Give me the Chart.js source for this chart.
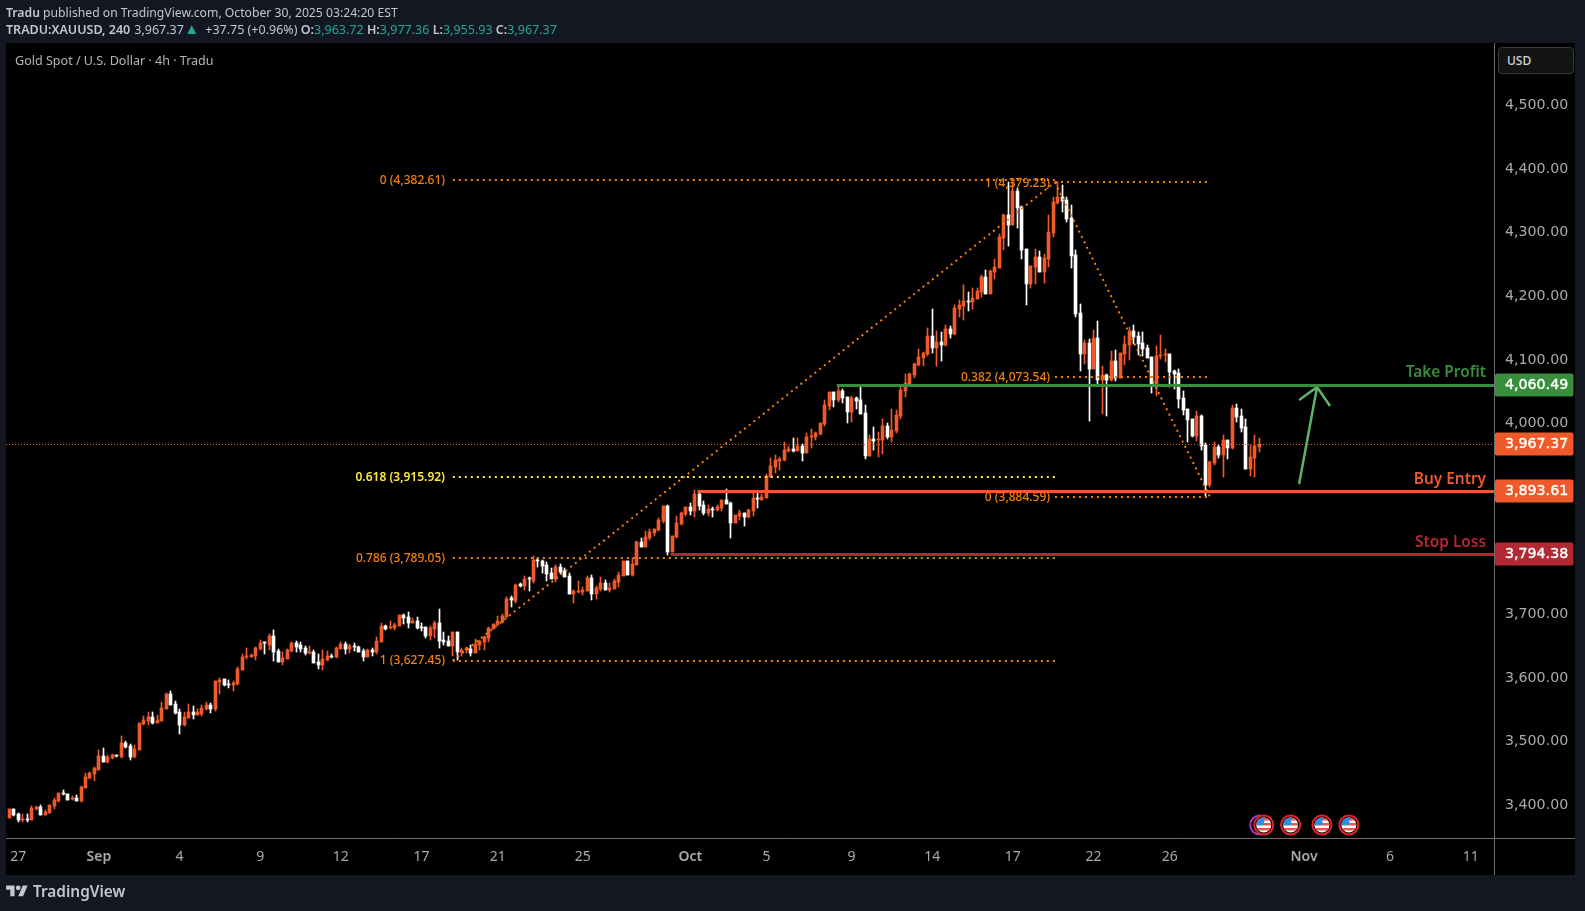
<!DOCTYPE html>
<html>
<head>
<meta charset="utf-8">
<title>XAUUSD 4h</title>
<script src="https://cdn.jsdelivr.net/npm/chart.js@4"></script>
<style>
  html, body { margin: 0; height: 100%; background: #131722; overflow: hidden; }
  canvas { position: absolute; left: 0; top: 0; }
  .txt { position: absolute; white-space: nowrap; font-family: "Noto Sans", sans-serif; color: #c3c6ce; }
  .head { left: 6px; font-size: 12.5px; line-height: 16px; }
  .head b { font-weight: 600; }
  .teal { color: #26a69a; }
  #line1 { font-size: 12.2px; }
  #tri { font-size: 15px; line-height: 12px; margin-left: -3px; margin-right: 3px; }
  #title { left: 15px; top: 52px; font-size: 12.55px; line-height: 17px; color: #b4b6bc; }
  #usd { left: 1498px; top: 47px; width: 76px; height: 27px; box-sizing: border-box; padding-left: 8px; background: #141414; border: 1px solid #3a3a3a; border-radius: 4px; font-size: 12px; font-weight: 500; line-height: 26px; color: #d1d4dc; }
  #logo { position: absolute; left: 6px; top: 883px; }
  #logotext { left: 33px; top: 880px; font-size: 15.4px; line-height: 24px; font-weight: 600; color: #c5c7cd; }
</style>
</head>
<body>
<canvas id="chart" width="1585" height="911"></canvas>
<div class="txt head" id="line1" style="top:5px"><b>Tradu</b> published on TradingView.com, October 30, 2025 03:24:20 EST</div>
<div class="txt head" style="top:22px"><b>TRADU:XAUUSD, 240</b><span style="margin-left:4px">3,967.37</span> <span class="teal" id="tri">▲</span> +37.75 (+0.96%) <b>O:</b><span class="teal">3,963.72</span> <b>H:</b><span class="teal">3,977.36</span> <b>L:</b><span class="teal">3,955.93</span> <b>C:</b><span class="teal">3,967.37</span></div>
<div class="txt" id="title">Gold Spot / U.S. Dollar · 4h · Tradu</div>
<div class="txt" id="usd">USD</div>
<svg id="logo" width="22" height="17" viewBox="0 0 36 28" fill="#c5c7cd"><path d="M14 22H7V11H0V4h14v18zM28 22h-8l7.5-18h8L28 22z"/><circle cx="20" cy="8" r="4"/></svg>
<div class="txt" id="logotext">TradingView</div>

<script>
const opens = [
  3380,3394,3386,3377,3379,3377,3394,3398,3385,3388,
  3399,3406,3420,3418,3410,3411,3407,3427,3443,3449,
  3456,3477,3468,3474,3478,3476,3498,3493,3476,3487,
  3528,3532,3539,3529,3532,3551,3575,3559,3547,3526,
  3537,3547,3542,3543,3551,3558,3551,3594,3598,3591,
  3589,3591,3613,3633,3633,3635,3646,3656,3652,3666,
  3642,3625,3630,3642,3655,3652,3647,3639,3641,3625,
  3620,3628,3635,3633,3646,3653,3646,3650,3649,3642,
  3633,3644,3641,3657,3682,3679,3679,3682,3699,3696,
  3686,3690,3680,3680,3666,3677,3686,3660,3658,3650,
  3672,3641,3644,3646,3639,3652,3657,3663,3677,3683,
  3688,3696,3725,3721,3747,3745,3756,3752,3786,3784,
  3778,3765,3756,3774,3768,3760,3732,3735,3735,3737,
  3757,3732,3740,3749,3739,3740,3751,3760,3784,3762,
  3778,3814,3806,3820,3828,3833,3847,3870,3798,3822,
  3842,3858,3869,3862,3889,3872,3859,3865,3864,3867,
  3880,3875,3844,3855,3859,3853,3862,3883,3880,3883,
  3916,3932,3941,3943,3957,3960,3957,3965,3954,3979,
  3979,3983,3999,4027,4049,4037,4051,4042,4018,4040,
  4037,4016,3949,3976,3974,3974,3996,3979,3988,4012,
  4051,4060,4076,4092,4103,4109,4138,4119,4128,4123,
  4149,4141,4180,4185,4193,4191,4196,4207,4230,4204,
  4238,4244,4292,4328,4312,4365,4340,4274,4219,4246,
  4262,4238,4259,4299,4347,4356,4351,4323,4265,4174,
  4109,4127,4086,4134,4068,4076,4068,4098,4072,4109,
  4123,4145,4138,4127,4119,4104,4059,4106,4108,4109,
  4082,4079,4040,4023,4007,3980,4012,3966,3903,3938,
  3963,3951,3974,3962,4024,4012,3995,3929,3946,3963.72
];
const highs = [
  3394,3394,3388,3386,3386,3399,3399,3400,3393,3401,
  3411,3420,3424,3418,3415,3416,3430,3451,3453,3460,
  3487,3490,3479,3481,3479,3509,3501,3496,3495,3530,
  3540,3547,3547,3542,3562,3576,3580,3564,3551,3547,
  3559,3556,3551,3558,3562,3560,3595,3600,3598,3597,
  3595,3617,3638,3647,3638,3649,3660,3657,3669,3675,
  3646,3641,3646,3657,3658,3657,3650,3650,3644,3638,
  3644,3642,3638,3649,3657,3657,3654,3655,3651,3646,
  3646,3647,3664,3686,3683,3690,3686,3699,3701,3704,
  3694,3696,3686,3680,3682,3690,3708,3672,3666,3673,
  3672,3647,3648,3652,3661,3660,3666,3680,3685,3697,
  3700,3727,3729,3747,3749,3760,3759,3792,3789,3786,
  3782,3773,3778,3779,3773,3765,3738,3752,3743,3761,
  3762,3745,3759,3754,3749,3756,3767,3784,3784,3788,
  3815,3820,3831,3834,3834,3851,3870,3872,3823,3855,
  3861,3869,3875,3896,3891,3878,3872,3869,3872,3880,
  3897,3877,3856,3864,3859,3866,3891,3892,3889,3921,
  3946,3950,3947,3971,3965,3977,3977,3968,3985,3991,
  3987,4001,4037,4049,4049,4059,4054,4042,4043,4042,
  4057,4029,3982,3994,3987,4007,4001,4023,4021,4060,
  4078,4079,4095,4117,4112,4150,4180,4145,4144,4155,
  4153,4186,4194,4218,4207,4213,4213,4233,4241,4241,
  4259,4298,4329,4380,4380,4370,4342,4274,4248,4274,
  4271,4266,4328,4356,4380,4375,4356,4344,4273,4188,
  4131,4133,4147,4161,4090,4078,4114,4116,4111,4138,
  4152,4155,4144,4144,4123,4104,4122,4139,4117,4109,
  4084,4086,4051,4023,4007,4020,4013,3969,3941,3971,
  3966,3982,3974,4029,4031,4023,4007,3966,3982,3977.36
];
const lows = [
  3380,3383,3374,3374,3374,3377,3392,3385,3385,3388,
  3394,3405,3416,3408,3408,3407,3405,3427,3441,3438,
  3455,3468,3466,3473,3476,3474,3490,3471,3474,3487,
  3526,3526,3528,3529,3532,3551,3558,3543,3512,3525,
  3537,3536,3542,3540,3550,3545,3548,3575,3587,3584,
  3580,3589,3613,3630,3633,3628,3644,3638,3644,3627,
  3625,3620,3630,3641,3641,3641,3636,3638,3624,3614,
  3613,3627,3631,3631,3646,3638,3639,3642,3641,3627,
  3633,3635,3638,3657,3675,3677,3675,3682,3685,3679,
  3686,3677,3674,3663,3660,3663,3647,3652,3650,3635,
  3628,3635,3640,3634,3639,3644,3644,3657,3677,3683,
  3686,3696,3712,3718,3743,3738,3737,3749,3774,3765,
  3752,3756,3751,3763,3759,3732,3718,3733,3730,3737,
  3722,3724,3737,3738,3735,3740,3743,3760,3762,3760,
  3778,3806,3806,3817,3823,3831,3844,3793,3798,3820,
  3840,3855,3856,3853,3864,3856,3855,3853,3862,3862,
  3873,3820,3844,3848,3839,3851,3855,3867,3880,3883,
  3916,3922,3927,3941,3955,3955,3957,3941,3954,3961,
  3974,3982,3996,4021,4026,4034,4032,4001,4002,4023,
  4015,3944,3949,3958,3947,3952,3976,3971,3985,4007,
  4042,4059,4071,4090,4090,4106,4111,4090,4098,4122,
  4134,4139,4167,4163,4177,4180,4196,4199,4204,4204,
  4227,4244,4273,4279,4312,4307,4259,4186,4213,4219,
  4238,4221,4246,4293,4345,4333,4317,4244,4167,4083,
  4094,4004,4086,4061,4015,4012,4067,4067,4072,4092,
  4100,4125,4108,4106,4103,4048,4043,4101,4097,4057,
  4054,4024,4013,3971,3979,3973,3958,3886,3900,3935,
  3946,3916,3944,3960,4002,3987,3929,3917,3916,3955.93
];
const closes = [
  3394,3385,3377,3379,3377,3396,3398,3385,3389,3400,
  3408,3419,3418,3408,3412,3407,3429,3444,3451,3458,
  3477,3468,3476,3479,3477,3498,3491,3476,3488,3529,
  3534,3539,3529,3534,3553,3575,3558,3545,3526,3539,
  3547,3542,3547,3553,3558,3551,3595,3597,3589,3589,
  3592,3614,3633,3635,3636,3647,3655,3655,3666,3641,
  3625,3631,3644,3655,3649,3646,3639,3641,3624,3620,
  3630,3635,3633,3647,3653,3646,3650,3648,3641,3633,
  3644,3641,3658,3682,3677,3680,3683,3699,3694,3686,
  3690,3679,3679,3666,3679,3686,3658,3657,3650,3673,
  3641,3644,3647,3639,3653,3658,3664,3679,3685,3690,
  3697,3724,3723,3746,3745,3756,3755,3785,3784,3776,
  3763,3756,3774,3767,3759,3732,3737,3737,3738,3757,
  3732,3741,3749,3738,3741,3752,3762,3784,3762,3779,
  3814,3806,3822,3829,3834,3848,3870,3798,3823,3844,
  3859,3869,3862,3889,3870,3859,3866,3864,3869,3880,
  3873,3844,3856,3859,3853,3864,3883,3881,3884,3918,
  3933,3943,3944,3958,3960,3957,3965,3954,3979,3980,
  3985,4001,4029,4049,4037,4051,4040,4018,4040,4035,
  4015,3949,3976,3972,3976,3996,3979,3990,4013,4053,
  4064,4078,4094,4105,4111,4138,4119,4128,4123,4149,
  4141,4182,4186,4193,4191,4197,4208,4230,4204,4240,
  4246,4293,4328,4312,4365,4339,4273,4219,4248,4262,
  4238,4260,4301,4348,4356,4350,4322,4263,4172,4109,
  4127,4086,4134,4068,4076,4068,4098,4072,4111,4125,
  4145,4136,4125,4117,4103,4059,4106,4108,4109,4081,
  4078,4039,4021,4006,3980,4012,3965,3903,3940,3963,
  3951,3974,3962,4024,4010,3993,3929,3947,3965,3967.37
];

const priceTicks = [3400,3500,3600,3700,3800,3900,4000,4100,4200,4300,4400,4500];
const timeTickBars = [2,20,38,56,74,92,109,128,152,169,188,206,224,242,259,289,308.2,326.2];
const timeTickLabels = ["27","Sep","4","9","12","17","21","25","Oct","5","9","14","17","22","26","Nov","6","11"];
const boldTimeLabels = ["Sep","Oct","Nov"];

// fib retracement drawn up from the September low
const fibUpPrices = [4382.61, 3915.92, 3789.05, 3627.45];
const fibUpLabels = ["0 (4,382.61)", "0.618 (3,915.92)", "0.786 (3,789.05)", "1 (3,627.45)"];
const fibUpBars = [99, 233.4];
// fib drawn down from the October high
const fibDownPrices = [4379.23, 4073.54, 3884.59];
const fibDownLabels = ["1 (4,379.23)", "0.382 (4,073.54)", "0 (3,884.59)"];
const fibDownBars = [233.4, 268];

const takeProfit = 4060.49;
const buyEntry = 3893.61;
const stopLoss = 3794.38;
const lastPrice = 3967.37;
const levelStartBars = [184.7, 153.6, 147.6];

const arrowBars = [287.9, 291.9, 287.9, 291.9, 294.8];
const arrowPrices = [3904.9, 4057.3, 4036.9, 4057.3, 4027.5];
const eventBars = [280, 286, 293, 299];

const ORANGE = "#f5800b";
const YELLOW = "#ffeb3b";
const UP = "#f05a2b";
const GREEN = "#388e3c";
const RED = "#b22833";
const FONT = '"Noto Sans", sans-serif';
const NUM_FONT = '"DejaVu Sans", sans-serif';
const MIN_BAR = -0.743, MAX_BAR = 331.4;
const PANEL_RIGHT = 1575, PANEL_BOTTOM = 875;

const barIndex = opens.map((v, i) => i);
const candleColors = opens.map((o, i) => (closes[i] >= o ? UP : "#ffffff"));

function hline(from, to, price, color, width, dash) {
  return {
    type: "line", order: 1,
    data: [{ x: from, y: price }, { x: to, y: price }],
    borderColor: color, borderWidth: width, borderDash: dash || [],
    pointRadius: 0, tension: 0
  };
}

function polyline(bars, prices, color, width, dash) {
  return {
    type: "line", order: 1,
    data: bars.map((b, i) => ({ x: b, y: prices[i] })),
    borderColor: color, borderWidth: width, borderDash: dash || [],
    pointRadius: 0, tension: 0
  };
}

const DOTS = [2, 4];
const datasets = [
  { type: "bar", order: 3, grouped: false, barThickness: 1,
    data: barIndex.map((i) => ({ x: i, y: [lows[i], highs[i]] })),
    backgroundColor: candleColors },
  { type: "bar", order: 2, grouped: false, barThickness: 3,
    data: barIndex.map((i) => ({ x: i, y: [opens[i], closes[i]] })),
    backgroundColor: candleColors },
  hline(MIN_BAR, MAX_BAR, lastPrice, UP, 1, [1, 2]),
  hline(fibUpBars[0], fibUpBars[1], fibUpPrices[0], ORANGE, 2, DOTS),
  hline(fibUpBars[0], fibUpBars[1], fibUpPrices[1], YELLOW, 2, DOTS),
  hline(fibUpBars[0], fibUpBars[1], fibUpPrices[2], ORANGE, 2, DOTS),
  hline(fibUpBars[0], fibUpBars[1], fibUpPrices[3], ORANGE, 2, DOTS),
  hline(fibDownBars[0], fibDownBars[1], fibDownPrices[0], ORANGE, 2, DOTS),
  hline(fibDownBars[0], fibDownBars[1], fibDownPrices[1], ORANGE, 2, DOTS),
  hline(fibDownBars[0], fibDownBars[1], fibDownPrices[2], ORANGE, 2, DOTS),
  polyline(fibUpBars, [fibUpPrices[3], fibDownPrices[0]], ORANGE, 2, DOTS),
  polyline(fibDownBars, [fibDownPrices[0], fibDownPrices[2]], ORANGE, 2, DOTS),
  hline(levelStartBars[0], MAX_BAR, takeProfit, GREEN, 3),
  hline(levelStartBars[1], MAX_BAR, buyEntry, UP, 3),
  hline(levelStartBars[2], MAX_BAR, stopLoss, RED, 3),
  polyline(arrowBars, arrowPrices, "#5fb266", 2.5)
];

// snap candles and flat lines to whole pixels so they stay sharp
const snapMarks = {
  id: "snapMarks",
  afterDatasetsUpdate(chart) {
    chart.data.datasets.forEach((ds, d) => {
      const points = chart.getDatasetMeta(d).data;
      if (ds.type === "bar") {
        points.forEach((el) => {
          el.x = Math.floor(el.x) + 0.5;
          el.y = Math.round(el.y);
          el.base = Math.round(el.base);
          if (el.y === el.base) el.y -= 1;
        });
      } else if (points.length === 2 && points[0].y === points[1].y) {
        const y = ds.borderWidth % 2 ? Math.floor(points[0].y) + 0.5 : Math.round(points[0].y);
        points.forEach((el) => { el.y = y; });
      }
    });
  }
};

const panel = {
  id: "panel",
  beforeDraw(chart) {
    const c = chart.ctx, a = chart.chartArea;
    c.save();
    c.fillStyle = "#000000";
    c.fillRect(a.left, a.top, PANEL_RIGHT - a.left, PANEL_BOTTOM - a.top);
    c.strokeStyle = "#6e7076";
    c.lineWidth = 1;
    c.beginPath();
    c.moveTo(a.left, a.bottom + 0.5);
    c.lineTo(PANEL_RIGHT, a.bottom + 0.5);
    c.moveTo(a.right + 0.5, a.top);
    c.lineTo(a.right + 0.5, PANEL_BOTTOM);
    c.stroke();
    c.restore();
  }
};

function roundBox(c, x, y, w, h, r) {
  c.beginPath();
  c.roundRect(x, y, w, h, r);
  c.fill();
}

function drawFlag(c, x, y) {
  c.save();
  c.fillStyle = "#000000";
  c.strokeStyle = "#e3242f";
  c.lineWidth = 2;
  c.beginPath();
  c.arc(x, y, 9.5, 0, Math.PI * 2);
  c.fill();
  c.stroke();
  c.beginPath();
  c.arc(x, y, 7.5, 0, Math.PI * 2);
  c.clip();
  c.fillStyle = "#ffffff";
  c.fillRect(x - 8, y - 8, 16, 16);
  c.fillStyle = "#ef5350";
  c.fillRect(x - 8, y - 7, 16, 2.5);
  c.fillRect(x - 8, y - 2, 16, 2.5);
  c.fillRect(x - 8, y + 3, 16, 2.5);
  c.fillStyle = "#2f8be6";
  c.fillRect(x - 8, y - 8, 8.5, 8);
  c.restore();
}

const annotations = {
  id: "annotations",
  afterDraw(chart) {
    const c = chart.ctx, xs = chart.scales.x, ys = chart.scales.y;
    c.save();
    c.textBaseline = "middle";

    // fib labels
    c.textAlign = "right";
    fibUpPrices.forEach((p, i) => {
      c.font = (i === 1 ? "600" : "500") + " 12px " + FONT;
      c.fillStyle = i === 1 ? YELLOW : ORANGE;
      c.fillText(fibUpLabels[i], 445, ys.getPixelForValue(p) + 0.5);
    });
    c.font = "500 12px " + FONT;
    fibDownPrices.forEach((p, i) => {
      c.fillStyle = ORANGE;
      c.fillText(fibDownLabels[i], 1050, ys.getPixelForValue(p) + 1);
    });

    // level names
    c.font = "600 15.4px " + FONT;
    [["Take Profit", takeProfit, GREEN], ["Buy Entry", buyEntry, UP], ["Stop Loss", stopLoss, RED]].forEach((l) => {
      c.fillStyle = l[2];
      c.fillText(l[0], 1486, ys.getPixelForValue(l[1]) - 12);
    });

    // price tags on the axis
    c.textAlign = "left";
    c.font = "14.2px " + NUM_FONT;
    [[takeProfit, GREEN], [lastPrice, UP], [buyEntry, UP], [stopLoss, RED]].forEach((t) => {
      const y = Math.round(ys.getPixelForValue(t[0]));
      const label = t[0].toLocaleString("en-US", { minimumFractionDigits: 2 });
      c.fillStyle = t[1];
      roundBox(c, 1495, y - 11.5, 78.5, 23, 2);
      c.fillStyle = "#ffffff";
      c.strokeStyle = "#ffffff";
      c.lineWidth = 0.4;
      c.fillText(label, 1505, y);
      c.strokeText(label, 1505, y);
    });

    // event markers
    c.strokeStyle = "#9c3fb5";
    c.lineWidth = 2;
    c.beginPath();
    c.arc(xs.getPixelForValue(eventBars[0]) - 4, 825, 9.5, 0, Math.PI * 2);
    c.stroke();
    eventBars.forEach((b) => drawFlag(c, xs.getPixelForValue(b), 825));
    c.restore();
  }
};

new Chart(document.getElementById("chart"), {
  type: "bar",
  data: { datasets: datasets },
  plugins: [snapMarks, panel, annotations],
  options: {
    responsive: false,
    animation: false,
    devicePixelRatio: 1,
    events: [],
    layout: { padding: { left: 6, top: 43, right: 10, bottom: 38 } },
    plugins: { legend: { display: false }, tooltip: { enabled: false } },
    scales: {
      x: {
        type: "linear", min: MIN_BAR, max: MAX_BAR, offset: false,
        grid: { display: false }, border: { display: false },
        afterBuildTicks(scale) { scale.ticks = timeTickBars.map((v) => ({ value: v })); },
        afterFit(scale) { scale.height = 35; },
        ticks: {
          autoSkip: false, maxRotation: 0, padding: 3, color: "#a9abb0",
          font: (ctx) => ({
            family: FONT, size: 14,
            weight: boldTimeLabels.includes(timeTickLabels[ctx.index]) ? "600" : "400"
          }),
          callback: (value, i) => timeTickLabels[i]
        }
      },
      y: {
        position: "right", min: 3348.5, max: 4598.1,
        grid: { display: false }, border: { display: false },
        afterBuildTicks(scale) { scale.ticks = priceTicks.map((v) => ({ value: v })); },
        afterFit(scale) { scale.width = 81; },
        ticks: {
          padding: 3, color: "#a9abb0", font: { family: NUM_FONT, size: 14.2 },
          callback: (value) => value.toLocaleString("en-US", { minimumFractionDigits: 2 })
        }
      }
    }
  }
});
</script>
</body>
</html>
